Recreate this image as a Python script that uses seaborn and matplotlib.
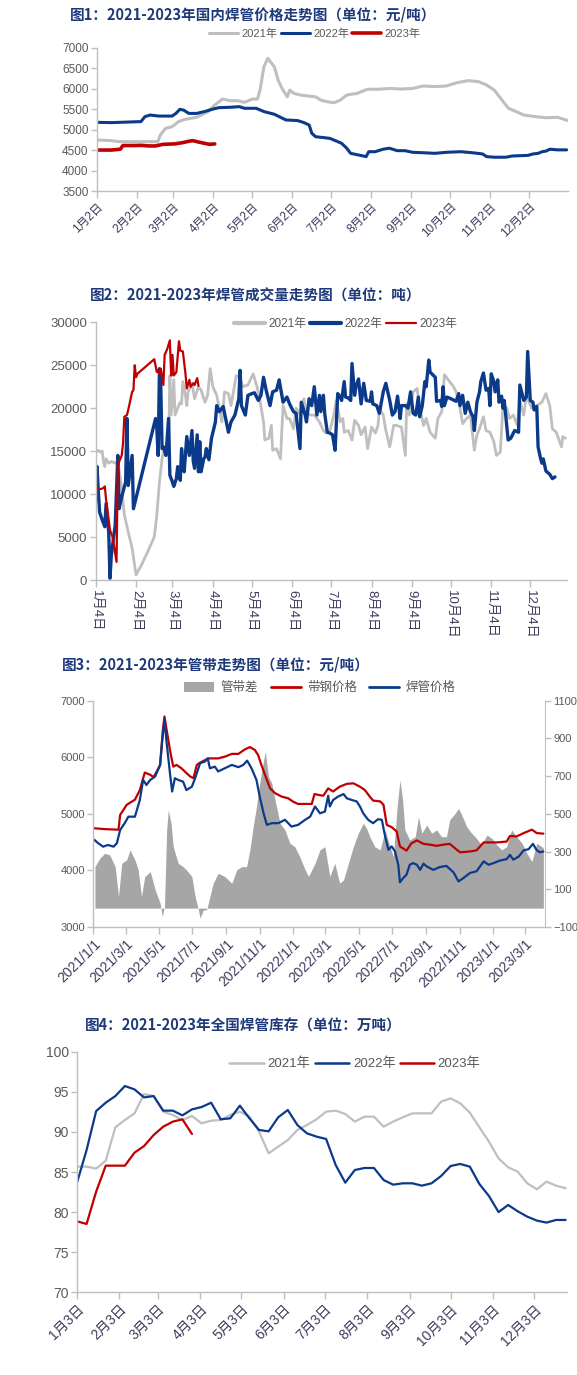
import numpy as np
import pandas as pd
import matplotlib
matplotlib.use("Agg")
import matplotlib.pyplot as plt
from matplotlib.patches import Patch
from matplotlib.lines import Line2D
import seaborn as sns

sns.set_style("ticks")
plt.rcParams["font.family"] = ["Liberation Sans", "Noto Sans CJK SC", "DejaVu Sans"]

C21 = "#BFBFBF"
C22 = "#0B3A8A"
C23 = "#C00000"
CAREA = "#A6A6A6"
TICKC = "#595959"
SPINE = "#BFBFBF"
TITLEC = "#1F3A7A"
XLABC = "#3C3C5C"

month_days = [0, 31, 59, 90, 120, 151, 181, 212, 243, 273, 304, 334]

# ---------- 图1 price (day offset from 1月2日)
p1_days_2021 = [0, 11, 17, 31, 47, 49, 53, 58, 63, 68, 77, 86, 91, 97, 103, 109, 114, 120, 124, 126,
                129, 132, 137, 140, 143, 147, 149, 152, 157, 163, 169, 173, 178, 183, 188, 193, 201, 209, 218, 226,
                235, 244, 252, 261, 270, 278, 287, 295, 301, 307, 313, 318, 324, 330, 339, 347, 356, 364]
p1_vals_2021 = [4746, 4730, 4705, 4705, 4705, 4870, 5030, 5070, 5195, 5250, 5300, 5440, 5600, 5745, 5705, 5705, 5665, 5745, 5745, 5965,
                6535, 6740, 6535, 6210, 6005, 5800, 5965, 5885, 5845, 5820, 5800, 5720, 5680, 5655, 5720, 5845, 5885, 5985, 5985, 6005,
                5990, 6005, 6065, 6050, 6065, 6145, 6195, 6170, 6090, 5965, 5720, 5520, 5440, 5355, 5315, 5290, 5300, 5220]
p1_days_2022 = [0, 11, 34, 37, 41, 48, 58, 61, 64, 67, 71, 77, 83, 89, 94, 103, 110, 114, 123, 129,
                137, 146, 155, 160, 164, 166, 169, 175, 180, 185, 189, 193, 196, 202, 208, 210, 215, 221, 226, 232,
                238, 244, 252, 261, 270, 281, 290, 298, 301, 307, 316, 321, 333, 337, 341, 344, 347, 350, 356, 363]
p1_vals_2022 = [5177, 5170, 5195, 5315, 5355, 5330, 5330, 5395, 5495, 5475, 5395, 5395, 5440, 5495, 5535, 5545, 5560, 5520, 5520, 5440,
                5375, 5235, 5220, 5170, 5110, 4910, 4825, 4805, 4785, 4720, 4665, 4545, 4420, 4380, 4340, 4460, 4460, 4520, 4545, 4485,
                4485, 4445, 4435, 4420, 4445, 4460, 4435, 4405, 4340, 4325, 4325, 4355, 4370, 4405, 4420, 4460, 4475, 4520, 4505, 4505]
p1_days_2023 = [0, 11, 18, 20, 28, 34, 40, 45, 51, 60, 66, 71, 74, 78, 83, 87, 91]
p1_vals_2023 = [4500, 4500, 4520, 4610, 4610, 4615, 4600, 4600, 4640, 4650, 4680, 4715, 4730, 4700, 4665, 4640, 4650]
p1_ticklabels = [f"{m}月2日" for m in range(1, 13)]

# ---------- 图2 volume (day offset from 1月4日)
p2_days_2021 = [0, 2, 3, 5, 6, 7, 8, 10, 12, 15, 17, 20, 22, 25, 28, 31, 35, 40, 45, 47,
                49, 51, 52, 54, 56, 57, 58, 60, 61, 63, 65, 66, 67, 69, 70, 71, 74, 76, 79, 81,
                84, 86, 88, 90, 93, 95, 97, 99, 102, 104, 108, 111, 113, 117, 121, 124, 126, 129, 130, 133,
                135, 136, 139, 142, 144, 147, 149, 152, 154, 157, 160, 162, 165, 168,
                172, 175, 177, 180, 183, 185, 188, 190, 191, 194, 197, 199, 202, 204, 207, 209, 212, 215, 217, 218,
                221, 223, 226, 229, 231, 235, 238, 239, 241, 244, 247, 249, 252, 254, 257, 261, 263, 266, 268, 271,
                275, 277, 280, 282, 285, 288, 291, 293, 295, 298, 300, 303, 306, 308, 311, 313, 316, 318, 321, 324,
                326, 329, 331, 335, 339, 343, 346, 349, 351, 354, 358, 359, 361]
p2_vals_2021 = [14900, 15100, 14900, 15000, 13800, 13200, 14100, 13600, 13800, 13600, 13800, 10700, 7600, 5600, 3700, 600, 1700, 3300, 5000, 7600,
                11400, 14100, 14900, 14500, 15500, 23800, 19200, 23300, 19200, 20000, 20700, 20500, 23100, 21500, 20300, 21900, 22900, 21100, 22500, 22100,
                20700, 21500, 24600, 22500, 21500, 20000, 18400, 21900, 21700, 20300, 23800, 23500, 22500, 22700, 24000, 22500, 21100, 18400, 16300, 16500,
                18000, 15100, 15300, 14100, 20300, 18800, 18800, 17600, 20000, 19200, 21100, 19400, 19200, 19200,
                18400, 17400, 17100, 17400, 19200, 20900, 18400, 18800, 17200, 17400, 16300, 18600, 18000, 16900, 17800, 15300, 17800, 17100, 18000, 20000,
                19200, 17400, 15500, 18000, 18000, 17800, 14500, 20500, 19200, 21900, 22300, 20000, 18000, 18800, 17200, 16500, 18800, 19600, 23900, 23300,
                22500, 21900, 20000, 18200, 18800, 19200, 15100, 16900, 17600, 19000, 17400, 17200, 16100, 14500, 14900, 20300, 20000, 18800, 19200, 18000,
                20900, 19200, 21500, 20000, 20300, 20700, 21700, 20300, 17600, 17200, 15500, 16700, 16500]
p2_days_2022 = [0, 1, 2, 3, 5, 7, 8, 10, 11, 12, 15, 17, 18, 20, 23, 24, 25, 28, 29, 46,
                47, 48, 49, 50, 51, 52, 54, 56, 57, 59, 60, 62, 63, 65, 66, 67, 68, 70, 72, 74,
                75, 76, 78, 79, 80, 81, 83, 84, 85, 87, 89, 92, 93, 95, 98, 102, 104, 107, 110, 111,
                112, 115, 117, 120, 122, 125, 127, 129, 131, 134, 136, 139, 141, 144, 147, 149, 152, 154, 157, 158,
                161, 162, 164, 166, 168, 170,
                172, 173, 175, 176, 178, 180, 182, 184, 186, 188, 189, 191, 192, 194, 196, 197, 199, 200, 202, 204,
                206, 208, 211, 212, 213, 216, 218, 221, 223, 226, 228, 230, 232, 234, 235, 238, 240, 242, 244, 246,
                248, 249, 251, 253, 254, 256, 257, 259, 261, 262, 265, 266, 267, 268, 270, 273, 277, 279, 280, 282,
                284, 286, 288, 290, 291, 293, 295, 296, 298, 300, 302, 303, 304, 306, 307, 309, 310, 312, 313, 314,
                317, 319, 321, 322, 325, 326, 329, 331, 332, 334, 336, 337, 339, 340, 342, 343, 344, 346, 349, 351, 353]
p2_vals_2022 = [9300, 13200, 10300, 7900, 7000, 6200, 8900, 5600, 200, 2900, 6400, 14500, 8300, 9700, 11400, 18800, 11000, 14500, 8300, 18800,
                17600, 14500, 24600, 22700, 15300, 15500, 14500, 18800, 12200, 11400, 10900, 11800, 13200, 11600, 15300, 13000, 12600, 16700, 14500, 17400,
                13800, 13000, 16900, 12600, 16100, 12600, 14100, 14300, 15300, 14000, 16500, 18400, 20300, 19600, 20200, 17200, 18400, 19200, 21100, 24400,
                20300, 19200, 21500, 21700, 21800, 20900, 21500, 23600, 22100, 20300, 21900, 22100, 23300, 20700, 21300, 20500, 19600, 19400, 15300, 20700,
                19200, 18400, 21100, 20300, 22500, 19200,
                21500, 19600, 21500, 19400, 17200, 17100, 16900, 15100, 21700, 21300, 20900, 23100, 21300, 21200, 20900, 25200, 21500, 22500, 23400, 20500,
                22900, 20900, 20800, 21900, 20500, 20300, 19400, 21900, 22900, 20900, 19200, 19600, 21400, 18800, 20300, 20300, 20000, 21900, 19400, 19200,
                21300, 19000, 20300, 23100, 22500, 25600, 24200, 23900, 23600, 20800, 20900, 20200, 22500, 20300, 21300, 21100, 20800, 21700, 20300, 21500,
                19400, 20700, 19600, 19000, 17400, 20700, 21900, 23100, 24100, 22100, 22300, 20300, 24000, 23100, 21900, 23300, 20700, 21400, 20000, 20900,
                16300, 16500, 17100, 17400, 17200, 22700, 20900, 21300, 26600, 20900, 20700, 19800, 20200, 15500, 14100, 13600, 14100, 12700, 12300, 11800, 12000]
p2_days_2023 = [1, 4, 6, 7, 8, 11, 13, 16, 17, 20, 21, 22, 24, 25, 28, 29, 30, 31, 32, 45,
                47, 48, 49, 50, 52, 53, 55, 57, 58, 59, 60, 62, 64, 65, 67, 69, 70, 72, 73, 75,
                76, 78, 79]
p2_vals_2023 = [10600, 10600, 10700, 10900, 9300, 5800, 5000, 2100, 13400, 14500, 15900, 19000, 19200, 19800, 21900, 22100, 25000, 23600, 24000, 25700,
                24200, 24400, 24000, 24600, 22700, 26200, 26900, 27900, 23800, 26200, 23800, 24200, 27800, 26700, 26600, 24000, 22300, 23300, 22500, 22900,
                22700, 23500, 22600]
p2_ticklabels = [f"{m}月4日" for m in range(1, 13)]

# ---------- 图3 pipe / strip (day offset from 2021-01-01)
p3_days_strip = [0, 21, 46, 49, 61, 76, 85, 94, 104, 110, 116, 122, 127, 130, 134, 140, 146, 152, 161, 167,
                 177, 183, 189, 195, 210, 228, 240, 253, 265, 277, 286, 295, 301, 307, 317, 323, 332, 344, 356, 365,
                 374, 387, 399, 404, 411, 420, 429, 438, 450, 463, 475, 487, 496, 505, 511, 524, 530, 536, 545, 554,
                 560, 572, 581, 591, 603, 615, 627, 639, 651, 664, 670, 688, 700, 713, 737, 755, 761, 773, 786, 801,
                 810, 822]
p3_vals_strip = [4747, 4730, 4720, 4980, 5160, 5250, 5420, 5730, 5690, 5650, 5750, 5865, 6480, 6720, 6480, 6130, 5835, 5865, 5805, 5750,
                 5660, 5630, 5865, 5905, 5980, 5980, 6010, 6060, 6060, 6140, 6180, 6130, 6040, 5865, 5600, 5450, 5365, 5305, 5275, 5215,
                 5175, 5175, 5175, 5350, 5335, 5320, 5450, 5395, 5480, 5530, 5540, 5480, 5420, 5305, 5235, 5220, 5160, 4805, 4765, 4690,
                 4425, 4350, 4480, 4530, 4470, 4455, 4435, 4455, 4470, 4365, 4320, 4335, 4355, 4495, 4495, 4510, 4610, 4600, 4660, 4720,
                 4660, 4650]
p3_days_pipe = [2, 9, 18, 27, 37, 43, 49, 58, 64, 76, 85, 91, 97, 104, 113, 122, 126, 130, 134, 140,
                144, 149, 155, 164, 170, 180, 186, 195, 204, 209, 213, 222, 228, 240, 253, 265, 274, 281, 289, 298,
                304, 311, 317, 326, 338, 350, 362, 374, 387, 396, 405, 414, 423, 429, 432, 438, 447, 457, 463, 472,
                481, 487, 493, 502, 511, 520, 527, 533, 539, 545, 551, 557, 560, 566, 572, 578, 584, 591, 597, 603,
                609, 621, 633, 645, 658, 667, 676, 688, 700, 713, 722, 731, 743, 755, 761, 767, 777, 786, 795, 803,
                810, 816, 822]
p3_vals_pipe = [4540, 4480, 4420, 4450, 4420, 4480, 4715, 4845, 4950, 4950, 5245, 5600, 5510, 5600, 5660, 5865, 6300, 6670, 6250, 5720,
                5395, 5630, 5600, 5570, 5420, 5480, 5630, 5895, 5925, 5980, 5805, 5835, 5750, 5805, 5865, 5825, 5865, 5940, 5805, 5600,
                5305, 5010, 4805, 4835, 4835, 4895, 4775, 4805, 4895, 4950, 5130, 5010, 5040, 5320, 5130, 5245, 5305, 5350, 5275, 5245,
                5220, 5130, 5010, 4895, 4835, 4905, 4895, 4600, 4365, 4425, 4335, 4100, 3790, 3865, 3925, 4100, 4130, 4100, 4010, 4120,
                4070, 4010, 4060, 4080, 3965, 3805, 3865, 3955, 3985, 4160, 4100, 4130, 4175, 4200, 4275, 4190, 4245, 4355, 4375, 4470,
                4355, 4320, 4335]
p3_days_gap = [3, 12, 21, 30, 40, 46, 52, 61, 67, 76, 82, 88, 94, 104, 113, 122, 126, 130, 134, 137,
               142, 146, 155, 164, 170, 180, 186, 192, 195, 201, 207, 213, 219, 228, 240, 253, 262, 271, 280, 286,
               292, 298, 304, 309, 314, 320, 326, 332, 341, 350, 359, 368, 377, 387, 393, 405, 414, 423, 432, 441,
               450, 457, 466, 475, 484, 493, 499, 505, 514, 524, 533, 539, 548, 555, 560, 565, 569, 578, 588, 594,
               600, 609, 618, 627, 636, 645, 651, 661, 667, 673, 682, 691, 700, 709, 719, 728, 737, 746, 755, 764,
               773, 783, 792, 801, 810, 819, 822]
p3_vals_gap = [220, 265, 291, 282, 220, 62, 238, 256, 309, 256, 203, 62, 168, 194, 97, 26, -44, 9, 415, 520,
               450, 326, 238, 220, 203, 168, 62, -9, -53, -9, -9, 62, 132, 185, 168, 132, 203, 220, 220, 309,
               432, 538, 662, 750, 830, 697, 662, 573, 450, 415, 344, 326, 273, 203, 168, 238, 309, 326, 168, 238,
               132, 150, 238, 326, 397, 450, 424, 379, 326, 309, 415, 353, 273, 538, 679, 573, 415, 362, 379, 485,
               397, 441, 397, 415, 379, 379, 468, 503, 529, 494, 432, 397, 370, 335, 388, 370, 335, 309, 326, 415,
               379, 344, 291, 247, 344, 326, 318]
p3_tick_dates = ["2021-01-01", "2021-03-01", "2021-05-01", "2021-07-01", "2021-09-01", "2021-11-01", "2022-01-01",
                 "2022-03-01", "2022-05-01", "2022-07-01", "2022-09-01", "2022-11-01", "2023-01-01", "2023-03-01"]

# ---------- 图4 inventory (weekly, from 1月3日)
p4_vals_2021 = [85.67, 85.67, 85.42, 86.41, 90.57, 91.48, 92.31, 94.72, 94.47, 92.52, 92.11, 91.48, 91.98, 91.07, 91.4, 91.48,
                92.11, 92.52, 91.9, 90.03, 87.33, 88.16, 88.99, 90.24, 90.86, 91.57, 92.52, 92.65, 92.23, 91.28, 91.9, 91.9,
                90.65, 91.28, 91.82, 92.31, 92.31, 92.31, 93.77, 94.18, 93.56, 92.4, 90.57, 88.78, 86.7, 85.58, 85.04, 83.59,
                82.84, 83.8, 83.3, 82.97]
p4_vals_2022 = [83.67, 87.74, 92.6, 93.64, 94.47, 95.72, 95.3, 94.3, 94.47, 92.65, 92.65, 92.06, 92.81, 93.1, 93.64, 91.57,
                91.69, 93.27, 91.69, 90.24, 90.07, 91.82, 92.73, 90.86, 89.82, 89.41, 89.12, 85.87, 83.67, 85.25, 85.5, 85.5,
                84.0, 83.42, 83.59, 83.59, 83.3, 83.59, 84.5, 85.75, 86.0, 85.67, 83.5, 82.0, 80.0, 80.89, 80.1, 79.43,
                78.94, 78.69, 79.02, 79.02]
p4_vals_2023 = [78.85, 78.52, 82.55, 85.79, 85.79, 85.79, 87.41, 88.24, 89.61, 90.65, 91.28, 91.57, 89.74]
p4_ticklabels = [f"{m}月3日" for m in range(1, 13)]

W, H = 577, 1375
fig = plt.figure(figsize=(W / 100, H / 100), dpi=100)


def add_ax(l, r, t, b):
    return fig.add_axes([l / W, 1 - b / H, (r - l) / W, (b - t) / H])


def style(ax, yfs, xfs):
    sns.despine(ax=ax)
    for s in ["left", "bottom"]:
        ax.spines[s].set_color(SPINE)
        ax.spines[s].set_linewidth(1.0)
    ax.tick_params(axis="y", length=4, width=1, color=SPINE, labelcolor=TICKC, labelsize=yfs, pad=2)
    ax.tick_params(axis="x", length=5, width=1, color=SPINE, labelcolor=XLABC, labelsize=xfs, pad=2)
    ax.grid(False)


def line(ax, x, y, color, lw):
    sns.lineplot(x=np.asarray(x), y=np.asarray(y), ax=ax, color=color, linewidth=lw,
                 estimator=None, sort=False, legend=False)


def title(txt, x, y):
    fig.text(x / W, 1 - y / H, txt, ha="left", va="center", fontsize=10.5, fontweight="bold",
             color=TITLEC, family=["Noto Sans CJK SC", "DejaVu Sans"])


def year_legend(ax, cx, cy, fs, lws):
    hs = [Line2D([], [], color=c, lw=w) for c, w in zip([C21, C22, C23], lws)]
    ax.legend(hs, ["2021年", "2022年", "2023年"], loc="center", bbox_to_anchor=(cx / W, 1 - cy / H),
              bbox_transform=fig.transFigure, ncol=3, frameon=False, fontsize=fs, handlelength=2.6,
              columnspacing=0.3, handletextpad=0.3, labelcolor=TICKC)


# ---- 图1
ax1 = add_ax(97, 568, 47.7, 191)
line(ax1, p1_days_2021, p1_vals_2021, C21, 2.2)
line(ax1, p1_days_2022, p1_vals_2022, C22, 2.2)
line(ax1, p1_days_2023, p1_vals_2023, C23, 2.6)
ax1.set_xlim(0, 364)
ax1.set_ylim(3500, 7000)
ax1.set_yticks(range(3500, 7001, 500))
ax1.set_xticks(month_days)
ax1.set_xticklabels(p1_ticklabels, rotation=45, ha="right", rotation_mode="anchor")
style(ax1, 8.5, 8.5)
ax1.set_xlabel("")
ax1.set_ylabel("")
title("图1：2021-2023年国内焊管价格走势图（单位：元/吨）", 70, 15)
year_legend(ax1, 315, 34, 8, [2.2, 2.2, 2.6])

# ---- 图2
ax2 = add_ax(95.7, 566.7, 322.3, 580)
line(ax2, p2_days_2021, p2_vals_2021, C21, 2.0)
line(ax2, p2_days_2022, p2_vals_2022, C22, 2.4)
line(ax2, p2_days_2023, p2_vals_2023, C23, 1.6)
ax2.set_xlim(0, 362)
ax2.set_ylim(0, 30000)
ax2.set_yticks(range(0, 30001, 5000))
ax2.set_xticks(month_days)
ax2.set_xticklabels(p2_ticklabels, rotation=-90, ha="center", va="top")
style(ax2, 9.5, 9.5)
ax2.set_xlabel("")
ax2.set_ylabel("")
title("图2：2021-2023年焊管成交量走势图（单位：吨）", 90, 296)
year_legend(ax2, 346, 324, 8.5, [3, 3, 1.6])

# ---- 图3
ax3 = add_ax(93.3, 545, 700.7, 927)
ax3r = ax3.twinx()
ax3r.fill_between(p3_days_gap, 0, p3_vals_gap, color=CAREA, lw=0)
line(ax3, p3_days_strip, p3_vals_strip, C23, 1.6)
line(ax3, p3_days_pipe, p3_vals_pipe, C22, 1.6)
ax3.set_zorder(ax3r.get_zorder() + 1)
ax3.patch.set_visible(False)
base = pd.Timestamp("2021-01-01")
p3_ticks = [(pd.Timestamp(d) - base).days for d in p3_tick_dates]
p3_labels = [f"{pd.Timestamp(d).year}/{pd.Timestamp(d).month}/1" for d in p3_tick_dates]
ax3.set_xlim(0, 825)
ax3.set_ylim(3000, 7000)
ax3.set_yticks(range(3000, 7001, 1000))
ax3r.set_ylim(-100, 1100)
ax3r.set_yticks(range(-100, 1101, 200))
ax3.set_xticks(p3_ticks)
ax3.set_xticklabels(p3_labels, rotation=45, ha="right", rotation_mode="anchor")
style(ax3, 8, 10)
ax3r.spines["top"].set_visible(False)
ax3r.spines["left"].set_visible(False)
ax3r.spines["bottom"].set_visible(False)
ax3r.spines["right"].set_color(SPINE)
ax3r.tick_params(axis="y", length=4, width=1, color=SPINE, labelcolor=TICKC, labelsize=8, pad=2)
ax3.set_xlabel("")
ax3.set_ylabel("")
title("图3：2021-2023年管带走势图（单位：元/吨）", 62, 665)
hs3 = [Patch(facecolor=CAREA, edgecolor="none"), Line2D([], [], color=C23, lw=2), Line2D([], [], color=C22, lw=2)]
ax3.legend(hs3, ["管带差", "带钢价格", "焊管价格"], loc="center", bbox_to_anchor=(320 / W, 1 - 688 / H),
           bbox_transform=fig.transFigure, ncol=3, frameon=False, fontsize=9, handlelength=2.4,
           handleheight=0.8, columnspacing=1.0, handletextpad=0.5, labelcolor=TICKC)

# ---- 图4
ax4 = add_ax(77, 567, 1051.7, 1292.3)
line(ax4, np.arange(len(p4_vals_2021)) * 7, p4_vals_2021, C21, 1.6)
line(ax4, np.arange(len(p4_vals_2022)) * 7, p4_vals_2022, C22, 1.6)
line(ax4, np.arange(len(p4_vals_2023)) * 7, p4_vals_2023, C23, 1.6)
ax4.set_xlim(0, 358)
ax4.set_ylim(70, 100)
ax4.set_yticks(range(70, 101, 5))
ax4.set_xticks(month_days)
ax4.set_xticklabels(p4_ticklabels, rotation=45, ha="right", rotation_mode="anchor")
style(ax4, 10, 10)
ax4.set_xlabel("")
ax4.set_ylabel("")
title("图4：2021-2023年全国焊管库存（单位：万吨）", 85, 1026)
year_legend(ax4, 355, 1064, 9.5, [1.8, 1.8, 1.8])

fig.savefig("out.png", dpi=100, facecolor="white")
